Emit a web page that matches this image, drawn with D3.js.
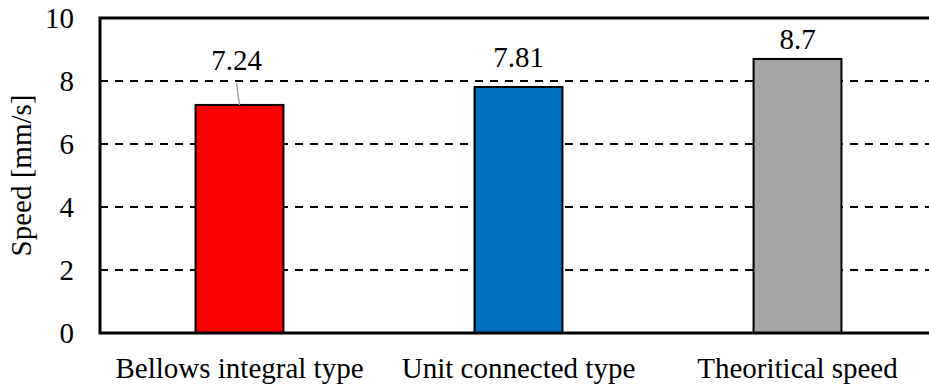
<!DOCTYPE html>
<html>
<head>
<meta charset="utf-8">
<script src="https://cdn.jsdelivr.net/npm/d3@7"></script>
<style>
  body { margin: 0; background: #fff; }
  .lbl { font-family: 'Liberation Serif'; font-size: 29px; fill: #000; }
</style>
</head>
<body>
<div id="chart"></div>
<script>
// chart data
const categories = ["Bellows integral type", "Unit connected type", "Theoritical speed"];
const speeds = [7.24, 7.81, 8.7];
const barColors = ["#FF0000", "#0070C0", "#A5A5A5"];
const yTicks = [0, 2, 4, 6, 8, 10];

const width = 929, height = 387;
const margin = { top: 18, left: 100, bottom: 54 };
const plotWidth = 837; // plot runs past the right edge of the window
const plotBottom = height - margin.bottom;

const svg = d3.select("#chart").append("svg")
    .attr("width", width)
    .attr("height", height);

const x = d3.scaleBand()
    .domain(categories)
    .range([margin.left, margin.left + plotWidth])
    .paddingInner(0.685)
    .paddingOuter(0.3425);

const y = d3.scaleLinear()
    .domain([0, 10])
    .range([plotBottom, margin.top]);

// dashed gridlines
svg.append("g")
    .selectAll("line")
    .data(yTicks.filter(d => d > 0 && d < 10))
    .join("line")
    .attr("x1", margin.left)
    .attr("x2", margin.left + plotWidth)
    .attr("y1", d => y(d))
    .attr("y2", d => y(d))
    .attr("stroke", "#000")
    .attr("stroke-width", 2)
    .attr("stroke-dasharray", "8,7");

// bars
svg.append("g")
    .selectAll("rect")
    .data(speeds)
    .join("rect")
    .attr("x", (d, i) => x(categories[i]))
    .attr("y", d => y(d))
    .attr("width", x.bandwidth())
    .attr("height", d => plotBottom - y(d))
    .attr("fill", (d, i) => barColors[i])
    .attr("stroke", "#000")
    .attr("stroke-width", 2);

// plot frame (top, left, bottom)
svg.append("path")
    .attr("d", `M${margin.left + plotWidth},${margin.top}H${margin.left}V${plotBottom}H${margin.left + plotWidth}`)
    .attr("fill", "none")
    .attr("stroke", "#000")
    .attr("stroke-width", 3);

// y tick labels
svg.append("g")
    .selectAll("text")
    .data(yTicks)
    .join("text")
    .attr("class", "lbl")
    .attr("x", 74)
    .attr("y", d => y(d))
    .attr("dy", "0.33em")
    .attr("text-anchor", "end")
    .text(d => d);

// x category labels
svg.append("g")
    .selectAll("text")
    .data(categories)
    .join("text")
    .attr("class", "lbl")
    .attr("x", d => x(d) + x.bandwidth() / 2)
    .attr("y", 378)
    .attr("text-anchor", "middle")
    .text(d => d);

// y axis title
svg.append("text")
    .attr("class", "lbl")
    .attr("transform", `translate(31,${(margin.top + plotBottom) / 2}) rotate(-90)`)
    .attr("text-anchor", "middle")
    .text("Speed [mm/s]");

// value labels; the first sits higher with a leader line
const labelY = [70, 67, 49];
svg.append("g")
    .selectAll("text")
    .data(speeds)
    .join("text")
    .attr("class", "lbl")
    .attr("x", (d, i) => x(categories[i]) + x.bandwidth() / 2 - (i === 0 ? 3 : 0))
    .attr("y", (d, i) => labelY[i])
    .attr("text-anchor", "middle")
    .text(d => d);

svg.append("line")
    .attr("x1", x(categories[0]) + x.bandwidth() / 2 - 3)
    .attr("y1", 83)
    .attr("x2", x(categories[0]) + x.bandwidth() / 2)
    .attr("y2", y(speeds[0]))
    .attr("stroke", "#A5A5A5")
    .attr("stroke-width", 1.5);
</script>
</body>
</html>
